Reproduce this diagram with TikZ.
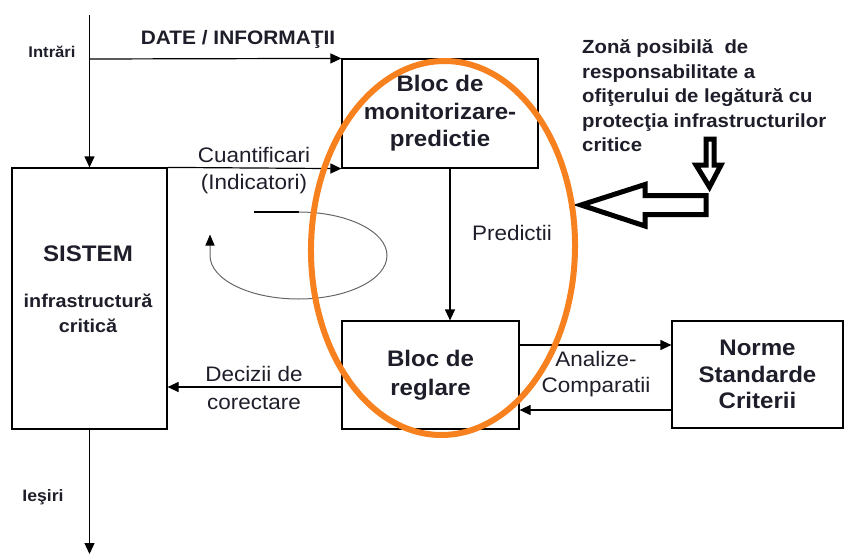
\documentclass[tikz,border=0pt]{standalone}
\usepackage{fontspec}
\setmainfont{Liberation Sans}[FakeStretch=1.07]
\usetikzlibrary{arrows.meta}
\definecolor{ora}{HTML}{F7801F}
\definecolor{txt}{HTML}{1E1E2A}
\begin{document}
\begin{tikzpicture}[x=1pt,y=-1pt,
  box/.style={draw, line width=1.2pt, inner sep=0pt},
  conn/.style={line width=1.2pt, -{Triangle[length=11pt,width=10pt]}},
  bt/.style={font=\bfseries\fontsize{22.5}{27.5}\selectfont, align=center, inner sep=0pt, text=txt},
  rt/.style={font=\fontsize{21}{27}\selectfont, align=center, inner sep=0pt, text=txt},
  hollow/.style={draw, line width=5pt, line join=miter, fill=white}
]
\useasboundingbox (0,0) rectangle (846,554);
% boxes
\node[box, bt, minimum width=196pt, minimum height=109pt] (mon) at (440,113.5) {Bloc de\\monitorizare-\\predictie};
\node[box, minimum width=155pt, minimum height=261pt] (sis) at (89.5,298.5) {};
\node[box, bt, minimum width=177pt, minimum height=108pt, font=\bfseries\fontsize{22.5}{29}\selectfont] (reg) at (430.5,375) {Bloc de\\reglare};
\node[box, bt, minimum width=171pt, minimum height=107pt, font=\bfseries\fontsize{22.5}{26.5}\selectfont] (nor) at (757.5,374.5) {Norme\\Standarde\\Criterii};
% texts in SISTEM
\node[bt] (sistem) at (88,254) {SISTEM};
\node[bt, font=\bfseries\fontsize{18.5}{25}\selectfont] (infra) at (88,313) {infrastructură\\critică};
% labels
\node[bt, font=\bfseries\fontsize{19.5}{24}\selectfont] (date) at (238,39) {DATE / INFORMAŢII};
\node[bt, font=\bfseries\fontsize{15.5}{20}\selectfont] (intr) at (52,52) {Intrări};
\node[bt, font=\bfseries\fontsize{16.5}{20}\selectfont] (ies) at (43,497) {Ieşiri};
\node[rt] (cuant) at (254,170.5) {Cuantificari\\(Indicatori)};
\node[rt] (pred) at (512,233) {Predictii};
\node[rt, font=\fontsize{21}{28.5}\selectfont] (dec) at (254,388) {Decizii de\\corectare};
\node[rt, font=\fontsize{21}{26}\selectfont] (anal) at (596,374) {Analize-\\Comparatii};
\node[bt, font=\bfseries\fontsize{19}{24.5}\selectfont, align=left, anchor=west] (zona) at (582,96) {Zonă posibilă~ de\\responsabilitate a\\ofiţerului de legătură cu\\protecţia infrastructurilor\\critice};
% coordinates
\coordinate (inTop) at (89.5,15);
\coordinate (j1) at (89.5,59);
\coordinate (outEnd) at (89.5,554);
% connectors
\draw[conn] (inTop) -- (sis.north);
\draw[conn] (j1) -- (mon.north west);
\draw[conn] (sis.north east) -- (mon.south west);
\draw[conn] (mon.south -| 450,0) -- (reg.north -| 450,0);
\draw[conn] (reg.east |- 0,345) -- (nor.west |- 0,345);
\draw[conn] (nor.west |- 0,410) -- (reg.east |- 0,410);
\draw[conn] (reg.west |- 0,387) -- (sis.east |- 0,387);
\draw[conn] (sis.south) -- (outEnd);
% feedback loop
\coordinate (loopA) at (254,212);
\coordinate (loopB) at (298.5,212);
\draw[line width=1.1pt] (loopA) -- (loopB);
\draw[gray!80!black, line width=1pt, -{Triangle[length=11pt,width=9pt,color=black]}] (loopB) arc[start angle=-90, end angle=180, x radius=88.5, y radius=43.5] -- ++(0,-21);
% hollow arrows
\draw[hollow] (581,205) -- (645,184.5) -- (645,195.5) -- (706,195.5) -- (706,214.5) -- (645,214.5) -- (645,226) -- cycle;
\draw[hollow] (706,139) -- (714,139) -- (714,165) -- (721,165) -- (709.5,187) -- (696,165) -- (706,165) -- cycle;
% orange ellipse
\draw[ora, line width=6pt, rotate around={-1:(443,248)}] (443,248) ellipse [x radius=132, y radius=187];
\end{tikzpicture}
\end{document}
